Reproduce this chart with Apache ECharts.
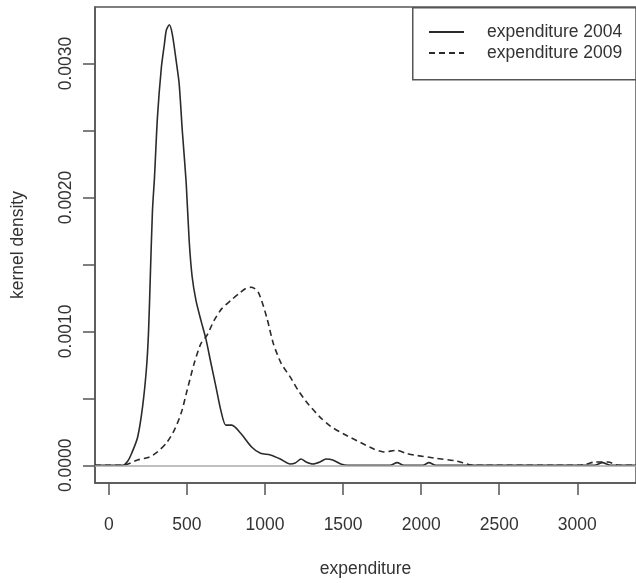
<!DOCTYPE html>
<html>
<head>
<meta charset="utf-8">
<title>Kernel density of expenditure</title>
<script src="https://cdn.jsdelivr.net/npm/echarts@6/dist/echarts.min.js"></script>
<style>
  html, body { margin: 0; padding: 0; background: #fff; }
  #chart { width: 636px; height: 583px; }
</style>
</head>
<body>
<div id="chart"></div>
<script>
// Kernel density estimates of expenditure, 2004 vs 2009
var seriesNames = ['expenditure 2004', 'expenditure 2009'];

var exp2004 = [-89, 0, 89, 120, 146, 184, 216, 241, 254, 265, 279, 292, 311, 336, 355, 368, 387,
  406, 431, 450, 470, 495, 514, 533, 558, 590, 622, 654, 685, 717, 749, 787, 844, 914, 971,
  1034, 1098, 1161, 1193, 1231, 1263, 1307, 1352, 1390, 1434, 1485, 1530, 1800, 1846, 1890,
  2010, 2050, 2095, 3110, 3160, 3215, 3376];
var dens2004 = [0, 0, 0, 0.00003, 0.00009, 0.00021, 0.00044, 0.00073, 0.00100, 0.00140, 0.00190, 0.00215, 0.00260, 0.00297, 0.00314, 0.00325, 0.00329,
  0.00322, 0.00302, 0.00285, 0.00250, 0.00211, 0.00168, 0.00141, 0.00123, 0.00108, 0.00094, 0.00076, 0.00059, 0.00041, 0.00030, 0.00030, 0.00024, 0.000137, 0.00009,
  0.000077, 0.000047, 0.00001, 0.000017, 0.000047, 0.000025, 0.00001, 0.000025, 0.000047, 0.00004, 0.00001, 0, 0, 0.00002, 0,
  0, 0.00002, 0, 0, 0.00002, 0, 0];

var exp2009 = [-89, 89, 184, 260, 311, 368, 419, 463, 501, 546, 590, 628, 673, 723, 780, 831, 876, 914, 958,
  1012, 1053, 1104, 1161, 1212, 1275, 1352, 1421, 1510, 1612, 1700, 1760, 1846, 1900, 1954, 2081, 2227, 2322,
  2400, 3008, 3060, 3115, 3198, 3261, 3376];
var dens2009 = [0, 0, 0.00004, 0.000062, 0.0001, 0.000166, 0.000263, 0.00039, 0.00056, 0.00076, 0.00091, 0.00097, 0.00108, 0.00117, 0.00123, 0.00128, 0.00132, 0.00133, 0.00129,
  0.0011, 0.00091, 0.00076, 0.00066, 0.00056, 0.00046, 0.00036, 0.00029, 0.00023, 0.00017, 0.00012, 0.0001, 0.000112, 0.00009, 0.000077, 0.000055, 0.000032, 0.000002,
  0, 0, 0.00001, 0.000025, 0.000025, 0, 0];

var xTicks = [0, 500, 1000, 1500, 2000, 2500, 3000];
var yTicks = [0, 0.0005, 0.001, 0.0015, 0.002, 0.0025, 0.003];
var yLabels = [0, 0.001, 0.002, 0.003];

var xRange = [-89, 3376];
var yRange = [-0.000132, 0.003422];

function pairs(xs, ys) {
  return xs.map(function (x, i) { return [x, ys[i]]; });
}

var FONT = '"Liberation Sans", Arial, Helvetica, sans-serif';
var INK = '#2b2b2b';
var TEXT = '#333';
var FRAME = '#555';

var chart = echarts.init(document.getElementById('chart'), null, { renderer: 'canvas' });
chart.setOption({
  animation: false,
  backgroundColor: '#fff',
  textStyle: { fontFamily: FONT },
  grid: { left: 95, top: 7, right: -5, bottom: 99, show: true, borderColor: FRAME, borderWidth: 1.5, backgroundColor: 'transparent' },
  xAxis: {
    type: 'value', min: xRange[0], max: xRange[1],
    name: 'expenditure', nameLocation: 'middle', nameGap: 77,
    nameTextStyle: { fontSize: 17.5, color: TEXT, fontFamily: FONT },
    axisLine: { show: true, onZero: false, lineStyle: { color: FRAME, width: 1.5 } },
    axisTick: { show: true, inside: false, length: 12, customValues: xTicks, lineStyle: { color: FRAME, width: 1.5 } },
    axisLabel: {
      customValues: xTicks, margin: 33, fontSize: 17.5, color: TEXT, fontFamily: FONT,
      formatter: function (v) { return String(v); }
    },
    splitLine: { show: false }
  },
  yAxis: {
    type: 'value', min: yRange[0], max: yRange[1],
    name: 'kernel density', nameLocation: 'middle', nameGap: 68, nameRotate: 90,
    nameTextStyle: { fontSize: 17.5, color: TEXT, fontFamily: FONT },
    axisLine: { show: true, onZero: false, lineStyle: { color: FRAME, width: 1.5 } },
    axisTick: { show: true, inside: false, length: 12, customValues: yTicks, lineStyle: { color: FRAME, width: 1.5 } },
    axisLabel: {
      customValues: yLabels, rotate: 90, margin: 20, fontSize: 17.5, color: TEXT, fontFamily: FONT,
      formatter: function (v) { return v.toFixed(4); }
    },
    splitLine: { show: false }
  },
  legend: {
    orient: 'vertical', left: 428, top: 23, padding: 0,
    itemWidth: 35, itemHeight: 14, itemGap: 3,
    data: seriesNames,
    itemStyle: { opacity: 0 },
    textStyle: { fontSize: 17.5, color: TEXT, fontFamily: FONT, lineHeight: 18, padding: [0, 0, 0, 18] }
  },
  graphic: [{
    type: 'rect', left: 412, top: 7, silent: true,
    shape: { width: 240, height: 72 },
    style: { fill: 'transparent', stroke: FRAME, lineWidth: 1.5 }
  }],
  series: [
    {
      name: seriesNames[0], type: 'line', showSymbol: false, symbol: 'none', smooth: 0.25,
      data: pairs(exp2004, dens2004),
      lineStyle: { color: INK, width: 1.6, type: 'solid' },
      itemStyle: { color: INK },
      markLine: {
        silent: true, symbol: ['none', 'none'], label: { show: false },
        lineStyle: { color: '#aaa', width: 1.5, type: 'solid' },
        data: [{ yAxis: 0 }]
      },
      z: 3
    },
    {
      name: seriesNames[1], type: 'line', showSymbol: false, symbol: 'none', smooth: 0.25,
      data: pairs(exp2009, dens2009),
      lineStyle: { color: INK, width: 1.6, type: [6, 4] },
      itemStyle: { color: INK },
      z: 3
    }
  ]
});
</script>
</body>
</html>
